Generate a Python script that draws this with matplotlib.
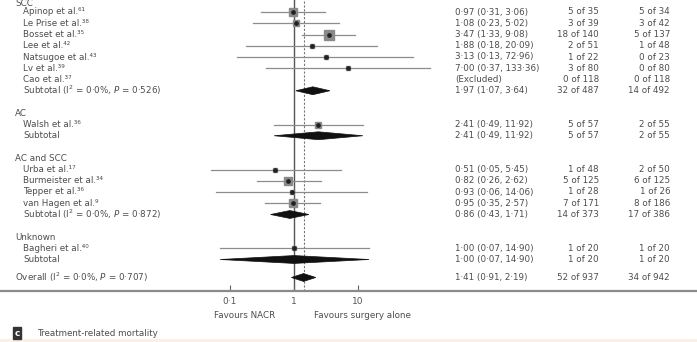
import numpy as np
import matplotlib
matplotlib.use("Agg")
import matplotlib.pyplot as plt
from matplotlib.patches import Polygon, Rectangle
from matplotlib.transforms import blended_transform_factory

# ---------------- data ----------------
group_names = ["SCC", "AC", "AC and SCC", "Unknown"]

study_names = ["Apinop et al.⁶¹", "Le Prise et al.³⁸", "Bosset et al.³⁵", "Lee et al.⁴²",
               "Natsugoe et al.⁴³", "Lv et al.³⁹", "Cao et al.³⁷",
               "Walsh et al.³⁶",
               "Urba et al.¹⁷", "Burmeister et al.³⁴", "Tepper et al.³⁶", "van Hagen et al.⁹",
               "Bagheri et al.⁴⁰"]
study_group = [0, 0, 0, 0, 0, 0, 0, 1, 2, 2, 2, 2, 3]
study_or = [0.97, 1.08, 3.47, 1.88, 3.13, 7.00, np.nan, 2.41, 0.51, 0.82, 0.93, 0.95, 1.00]
study_lo = [0.31, 0.23, 1.33, 0.18, 0.13, 0.37, np.nan, 0.49, 0.05, 0.26, 0.06, 0.35, 0.07]
study_hi = [3.06, 5.02, 9.08, 20.09, 72.96, 133.36, np.nan, 11.92, 5.45, 2.62, 14.06, 2.57, 14.90]
study_weight = [14, 8, 17, 3, 2, 2, 0, 7, 3, 11, 2, 14, 2]
study_est_text = ["0·97 (0·31, 3·06)", "1·08 (0·23, 5·02)", "3·47 (1·33, 9·08)",
                  "1·88 (0·18, 20·09)", "3·13 (0·13, 72·96)", "7·00 (0·37, 133·36)",
                  "(Excluded)", "2·41 (0·49, 11·92)",
                  "0·51 (0·05, 5·45)", "0·82 (0·26, 2·62)", "0·93 (0·06, 14·06)",
                  "0·95 (0·35, 2·57)", "1·00 (0·07, 14·90)"]
study_nacr = ["5 of 35", "3 of 39", "18 of 140", "2 of 51", "1 of 22", "3 of 80", "0 of 118",
              "5 of 57", "1 of 48", "5 of 125", "1 of 28", "7 of 171", "1 of 20"]
study_surg = ["5 of 34", "3 of 42", "5 of 137", "1 of 48", "0 of 23", "0 of 80", "0 of 118",
              "2 of 55", "2 of 50", "6 of 125", "1 of 26", "8 of 186", "1 of 20"]

sub_het = ["(I$^2$ = 0·0%, $P$ = 0·526)", "", "(I$^2$ = 0·0%, $P$ = 0·872)", ""]
sub_or = [1.97, 2.41, 0.86, 1.00]
sub_lo = [1.07, 0.49, 0.43, 0.07]
sub_hi = [3.64, 11.92, 1.71, 14.90]
sub_est_text = ["1·97 (1·07, 3·64)", "2·41 (0·49, 11·92)", "0·86 (0·43, 1·71)", "1·00 (0·07, 14·90)"]
sub_nacr = ["32 of 487", "5 of 57", "14 of 373", "1 of 20"]
sub_surg = ["14 of 492", "2 of 55", "17 of 386", "1 of 20"]

overall_label = "Overall (I$^2$ = 0·0%, $P$ = 0·707)"
overall_or, overall_lo, overall_hi = 1.41, 0.91, 2.19
overall_est_text = "1·41 (0·91, 2·19)"
overall_nacr, overall_surg = "52 of 937", "34 of 942"

tick_values = [0.1, 1, 10]
tick_labels = ["0·1", "1", "10"]
favours_left = "Favours NACR"
favours_right = "Favours surgery alone"
panel_letter = "c"
panel_title = "Treatment-related mortality"

# ---------------- layout ----------------
W, H = 697, 342
fig = plt.figure(figsize=(W / 100, H / 100), dpi=100)
fig.patch.set_facecolor("white")

x_one_px, decade_px = 294.0, 64.0
axis_y_px = 291.0
ax = fig.add_axes([0, (H - axis_y_px) / H, 1, axis_y_px / H])
ax.set_xscale("log")
ax.set_xlim(10 ** ((0 - x_one_px) / decade_px), 10 ** ((W - x_one_px) / decade_px))

step_px, first_px = 11.25, 12.0
def px2row(p):
    return (p - first_px) / step_px + 1
ax.set_ylim(px2row(axis_y_px), px2row(0))

for s in ["top", "left", "right"]:
    ax.spines[s].set_visible(False)
ax.spines["bottom"].set_color("#8a8a8a")
ax.spines["bottom"].set_linewidth(1.6)
ax.set_yticks([])
ax.set_xticks(tick_values)
ax.set_xticklabels(tick_labels)
ax.xaxis.set_minor_locator(matplotlib.ticker.NullLocator())
ax.tick_params(axis="x", direction="in", length=4, width=0.8, color="#666666",
               labelsize=6.5, labelcolor="#555555", pad=4)

tcol = "#4d4d4d"
fs = 6.3
trans = blended_transform_factory(fig.transFigure, ax.transData)

def put(xpx, row, s, ha="left"):
    ax.text(xpx / W, row, s, transform=trans, ha=ha, va="center", fontsize=fs, color=tcol)

def diamond(row, o, lo, hi, h=0.35):
    ax.add_patch(Polygon([[lo, row], [o, row - h], [hi, row], [o, row + h]],
                         closed=True, facecolor="#111111", edgecolor="#111111", lw=0.5, zorder=4))

x_name_grp, x_name = 15, 23
x_est, x_nacr, x_surg = 455, 599, 670

# group start rows
group_rows = [0.28, 10, 14, 21]
for g, gname in enumerate(group_names):
    r0 = group_rows[g]
    put(x_name_grp, r0, gname)
    idx = [i for i, gg in enumerate(study_group) if gg == g]
    r = int(round(r0)) + 1
    for i in idx:
        put(x_name, r, study_names[i])
        put(x_est, r, study_est_text[i])
        put(x_nacr, r, study_nacr[i], ha="right")
        put(x_surg, r, study_surg[i], ha="right")
        if not np.isnan(study_or[i]):
            ax.plot([study_lo[i], study_hi[i]], [r, r], color="#8c8c8c", lw=0.9, zorder=2)
            msize = 2.2 + 0.3 * study_weight[i]
            ax.plot([study_or[i]], [r], marker="s", ms=msize, color="#8a8a8a",
                    markeredgecolor="#8a8a8a", zorder=3)
            ax.plot([study_or[i]], [r], marker="o", ms=2.4, color="#222222", zorder=4)
        r += 1
    sub_label = "Subtotal" + (" " + sub_het[g] if sub_het[g] else "")
    put(x_name, r, sub_label)
    put(x_est, r, sub_est_text[g])
    put(x_nacr, r, sub_nacr[g], ha="right")
    put(x_surg, r, sub_surg[g], ha="right")
    diamond(r, sub_or[g], sub_lo[g], sub_hi[g])

overall_row = 24.6
put(x_name_grp, overall_row, overall_label)
put(x_est, overall_row, overall_est_text)
put(x_nacr, overall_row, overall_nacr, ha="right")
put(x_surg, overall_row, overall_surg, ha="right")
diamond(overall_row, overall_or, overall_lo, overall_hi)

# reference lines
ax.axvline(1, color="#555555", lw=1.0, zorder=1)
ax.axvline(overall_or, color="#777777", lw=0.8, ls=(0, (2, 1.5)), zorder=1)

# bottom annotations
fig.text(245 / W, 1 - 315 / H, favours_left, ha="center", va="center", fontsize=fs, color=tcol)
fig.text(362 / W, 1 - 315 / H, favours_right, ha="center", va="center", fontsize=fs, color=tcol)
fig.text(17 / W, 1 - 333 / H, panel_letter, ha="center", va="center", fontsize=6.5,
         color="white", fontweight="bold",
         bbox=dict(boxstyle="square,pad=0.2", facecolor="#333333", edgecolor="#333333"))
fig.text(37 / W, 1 - 333 / H, panel_title, ha="left", va="center", fontsize=fs, color=tcol)

fig.patches.append(Rectangle((0, 0), 1, 3 / H, transform=fig.transFigure,
                             facecolor="#fcefe4", edgecolor="none"))

fig.savefig("out.png", dpi=100, facecolor="white")
